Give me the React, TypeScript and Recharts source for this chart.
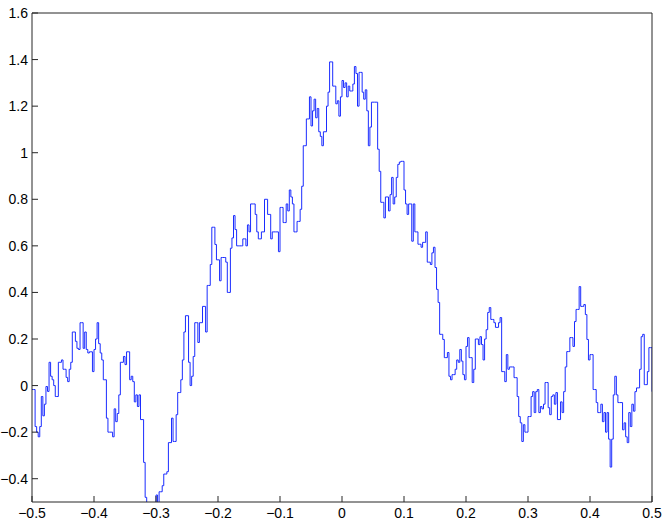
import React from 'react';
import { LineChart, Line, XAxis, YAxis } from 'recharts';

// tick values
const xTicks = [-0.5, -0.4, -0.3, -0.2, -0.1, 0, 0.1, 0.2, 0.3, 0.4, 0.5];
const yTicks = [-0.4, -0.2, 0, 0.2, 0.4, 0.6, 0.8, 1, 1.2, 1.4, 1.6];

// sample spacing of the staircase (x from -0.5 to 0.5)
const xStart = -0.5;
const xStep = 0.0025;

// values, left to right
const seg1 = [
  -0.017, -0.017, -0.176, -0.2, -0.22, -0.176, -0.047, -0.13, -0.08, -0.004,
  -0.025, 0.1, 0.04, 0.025, 0.0, -0.047, -0.047, 0.1, 0.1, 0.11,
  0.07, 0.07, 0.035, 0.017, 0.07, 0.1, 0.23, 0.23, 0.19, 0.16,
  0.155, 0.27, 0.27, 0.16, 0.23, 0.155, 0.14, 0.145, 0.145, 0.06,
  0.155, 0.2, 0.27, 0.18, 0.14, 0.11, 0.025, 0.025, -0.14, -0.2,
  -0.2, -0.2, -0.22, -0.1, -0.155, -0.12, -0.04, 0.1, 0.1, 0.125,
  0.09, 0.145, 0.145, 0.025, 0.04, 0.017, -0.07, -0.04, -0.09,
];
const seg2 = [
  -0.04, -0.146, -0.146, -0.33, -0.48, -0.56, -0.56, -0.56, -0.56, -0.56,
  -0.56, -0.47, -0.56, -0.456, -0.456, -0.43, -0.38, -0.38, -0.37, -0.245,
  -0.245, -0.14, -0.24, -0.24, -0.125, -0.03, -0.03, 0.025, 0.11, 0.23,
  0.3, 0.3, 0.1, 0.0, 0.04, 0.125, 0.27, 0.27, 0.185, 0.27,
  0.27, 0.34, 0.34, 0.23, 0.43, 0.43, 0.52, 0.68, 0.68, 0.606,
  0.54, 0.54, 0.45, 0.55, 0.55, 0.55, 0.53, 0.4, 0.4, 0.59,
  0.634, 0.73, 0.67, 0.6, 0.6, 0.6,
];
const seg3 = [
  0.6, 0.63, 0.63, 0.6, 0.69, 0.66, 0.78, 0.78, 0.78, 0.735,
  0.66, 0.63, 0.63, 0.66, 0.66, 0.8, 0.8, 0.735, 0.735, 0.63,
  0.66, 0.66, 0.66, 0.66, 0.575, 0.765, 0.765, 0.7, 0.7, 0.78,
  0.75, 0.84, 0.81, 0.78, 0.66, 0.66, 0.705, 0.705, 0.757, 0.856,
  1.03, 1.03, 1.145, 1.145, 1.24, 1.115, 1.18, 1.23, 1.15, 1.19,
  1.09, 1.07, 1.03, 1.09, 1.09, 1.2, 1.26, 1.39, 1.39, 1.286,
  1.286, 1.21, 1.223, 1.157, 1.24, 1.31, 1.28,
];
const seg4 = [
  1.3, 1.24, 1.286, 1.265, 1.265, 1.295, 1.37, 1.34, 1.2, 1.345,
  1.345, 1.26, 1.23, 1.27, 1.18, 1.03, 1.11, 1.217, 1.217, 1.217,
  1.217, 1.015, 0.92, 0.787, 0.787, 0.72, 0.81, 0.81, 0.75, 0.82,
  0.894, 0.78, 0.81, 0.894, 0.95, 0.96, 0.963, 0.963, 0.84, 0.78,
  0.735, 0.78, 0.78, 0.62, 0.78, 0.66, 0.66, 0.607, 0.607, 0.594,
  0.615, 0.615, 0.66, 0.53, 0.53, 0.52, 0.57, 0.594, 0.507, 0.413,
  0.357, 0.22, 0.22, 0.198, 0.12, 0.12, 0.142,
];
const seg5 = [
  0.04, 0.025, 0.047, 0.047, 0.07, 0.11, 0.1, 0.155, 0.105, 0.047,
  0.025, 0.168, 0.206, 0.12, 0.12, 0.013, 0.07, 0.2, 0.2, 0.176,
  0.21, 0.176, 0.11, 0.2, 0.24, 0.314, 0.335, 0.284, 0.284, 0.27,
  0.25, 0.25, 0.27, 0.292, 0.06, 0.06, 0.017, 0.133, 0.07, 0.08,
  0.08, 0.08, 0.034, 0.034, -0.047, -0.133, -0.16, -0.24, -0.168, -0.2,
  -0.2, -0.133, -0.133, -0.047, -0.026, -0.116, -0.026, -0.017, -0.116, -0.09,
  -0.1, -0.08, 0.013, 0.013, -0.095, -0.125, -0.047,
];
const seg6 = [
  -0.04, -0.08, -0.03, -0.146, -0.146, -0.07, -0.116, -0.026, 0.08, 0.146,
  0.146, 0.206, 0.206, 0.168, 0.275, 0.327, 0.327, 0.425, 0.34, 0.34,
  0.348, 0.305, 0.198, 0.11, 0.133, 0.133, -0.017, -0.017, -0.073, -0.116,
  -0.116, -0.08, -0.155, -0.116, -0.2, -0.116, -0.23, -0.35, -0.23, -0.04,
  0.04, -0.04, -0.073, -0.073, -0.073, -0.19, -0.16, -0.22, -0.245, -0.116,
  -0.176, -0.08, -0.11, -0.026, -0.01, -0.01, 0.07, 0.21, 0.22, 0.004,
  0.004, 0.06, 0.163, 0.163, -0.026,
];

const values = [...seg1, ...seg2, ...seg3, ...seg4, ...seg5, ...seg6];
const data = values.map((y, i) => ({ x: xStart + i * xStep, y }));

const axisColor = '#262626';
const font = { fontFamily: '"Liberation Sans", Arial, Helvetica, sans-serif', fontSize: 14, fill: '#000' };

// matlab style labels with a real minus sign
const fmt = (v: number) => {
  const r = Math.round(v * 10) / 10;
  if (r === 0) return '0';
  return r < 0 ? '\u2212' + String(-r) : String(r);
};

export default function App() {
  return (
    <div style={{ position: 'fixed', left: 0, top: 0, width: 667, height: 520, background: '#fff' }}>
      <LineChart width={667} height={520} data={data} margin={{ top: 12, right: 14, bottom: 0, left: 0 }}>
        <XAxis
          dataKey="x"
          type="number"
          domain={[-0.5, 0.5]}
          ticks={xTicks}
          tickFormatter={fmt}
          allowDataOverflow
          height={18}
          stroke={axisColor}
          tickSize={-6}
          tickMargin={12}
          tick={font}
        />
        <XAxis
          xAxisId="top"
          dataKey="x"
          type="number"
          orientation="top"
          domain={[-0.5, 0.5]}
          ticks={xTicks}
          allowDataOverflow
          height={1}
          stroke={axisColor}
          tickSize={-6}
          tick={false}
        />
        <YAxis
          type="number"
          domain={[-0.5, 1.6]}
          ticks={yTicks}
          tickFormatter={fmt}
          allowDataOverflow
          width={32}
          stroke={axisColor}
          tickSize={-6}
          tickMargin={10}
          tick={font}
        />
        <YAxis
          yAxisId="right"
          type="number"
          orientation="right"
          domain={[-0.5, 1.6]}
          ticks={yTicks}
          allowDataOverflow
          width={1}
          stroke={axisColor}
          tickSize={-6}
          tick={false}
        />
        <Line
          type="stepAfter"
          dataKey="y"
          stroke="#1a2cff"
          strokeWidth={1}
          dot={false}
          isAnimationActive={false}
        />
      </LineChart>
    </div>
  );
}
